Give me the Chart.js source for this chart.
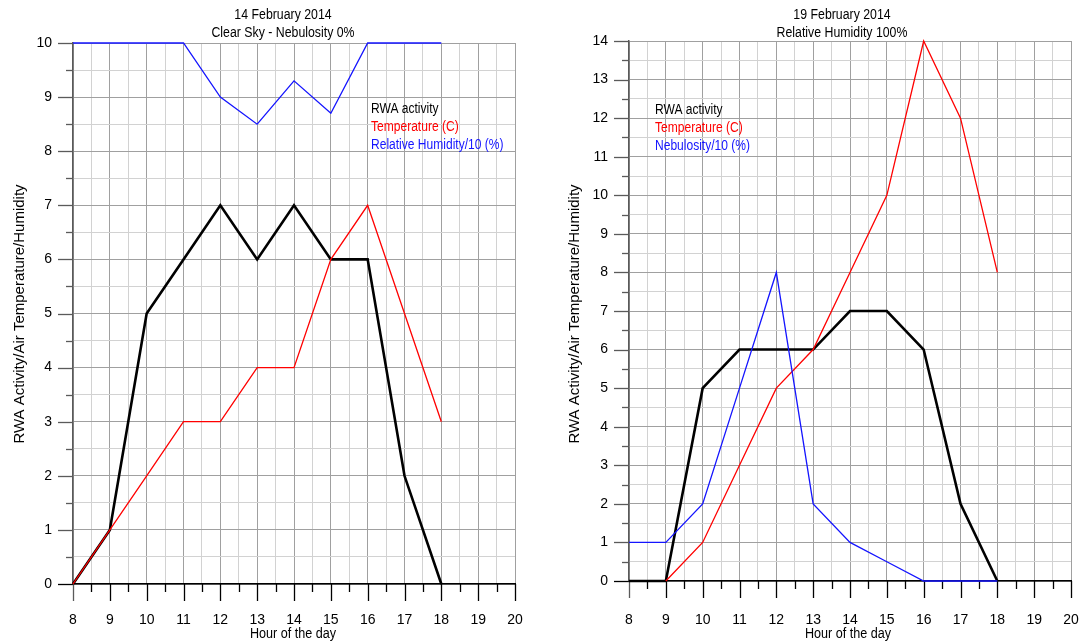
<!DOCTYPE html>
<html>
<head>
<meta charset="utf-8">
<script src="https://cdn.jsdelivr.net/npm/chart.js@4.4.1/dist/chart.umd.min.js"></script>
<style>
  html, body { margin: 0; padding: 0; background: #fff; }
  .panel { position: absolute; top: 0; width: 540px; height: 643px; }
  #leftPanel { left: 0; }
  #rightPanel { left: 540px; }
</style>
</head>
<body>
<div class="panel" id="leftPanel"><canvas id="feb14" width="540" height="643"></canvas></div>
<div class="panel" id="rightPanel"><canvas id="feb19" width="540" height="643"></canvas></div>
<script>
/* Hours of the day (x values shared by both charts) */
const hours = [8, 9, 10, 11, 12, 13, 14, 15, 16, 17, 18];

/* 14 February 2014 - clear sky */
const feb14Activity = [0, 1, 5, 6, 7, 6, 7, 6, 6, 2, 0];
const feb14Temperature = [0, 1, 2, 3, 3, 4, 4, 6, 7, 5, 3];
const feb14Humidity = [10, 10, 10, 10, 9, 8.5, 9.3, 8.7, 10, 10, 10];

/* 19 February 2014 - relative humidity 100% */
const feb19Activity = [0, 0, 5, 6, 6, 6, 7, 7, 6, 2, 0];
const feb19Temperature = [null, 0, 1, 3, 5, 6, 8, 10, 14, 12, 8];
const feb19Nebulosity = [1, 1, 2, 5, 8, 2, 1, 0.5, 0, 0, 0];

/* Axis ranges and text */
const hourMin = 8;
const hourMax = 20;
const feb14Max = 10;
const feb19Max = 14;
const feb14Titles = ["14 February 2014", "Clear Sky - Nebulosity 0%"];
const feb19Titles = ["19 February 2014", "Relative Humidity 100%"];
const feb14Legend = ["RWA activity", "Temperature (C)", "Relative Humidity/10 (%)"];
const feb19Legend = ["RWA activity", "Temperature (C)", "Nebulosity/10 (%)"];
const xTitle = "Hour of the day";
const yTitle = "RWA Activity/Air Temperature/Humidity";

const FONT = "'Liberation Sans', Arial, sans-serif";
const BLACK = "#000000";
const RED = "#ff0000";
const BLUE = "#1414ff";
const MAJOR_GRID = "#a0a0a0";
const MINOR_GRID = "#d2d2d2";
const AXIS_GRAY = "#5a5a5a";

function toPoints(values) {
  return hours.map((h, i) => ({ x: h, y: values[i] }));
}

function isWhole(v) {
  return Math.abs(v - Math.round(v)) < 1e-6;
}

/* Short/long tick marks outside the plot, like the original plotting program */
const tickMarks = {
  id: "tickMarks",
  beforeDatasetsDraw(chart) {
    const { ctx, chartArea, scales } = chart;
    const { x, y } = scales;
    ctx.save();
    ctx.lineWidth = 1.3;
    for (let v = y.min; v <= y.max + 1e-6; v += 0.5) {
      const py = Math.round(y.getPixelForValue(v)) + 0.5;
      const len = isWhole(v) ? 15 : 7;
      ctx.strokeStyle = v === 0 ? BLACK : AXIS_GRAY;
      ctx.beginPath();
      ctx.moveTo(chartArea.left - len, py);
      ctx.lineTo(chartArea.left, py);
      ctx.stroke();
    }
    for (let h = x.min; h <= x.max + 1e-6; h += 0.5) {
      const px = Math.round(x.getPixelForValue(h)) + 0.5;
      const len = isWhole(h) ? 17 : 8;
      ctx.strokeStyle = h === x.min ? AXIS_GRAY : BLACK;
      ctx.beginPath();
      ctx.moveTo(px, chartArea.bottom);
      ctx.lineTo(px, chartArea.bottom + len);
      ctx.stroke();
    }
    ctx.restore();
  }
};

function condensedText(ctx, text, x, y, size, colour, squeeze) {
  ctx.save();
  ctx.font = `${size}px ${FONT}`;
  ctx.fillStyle = colour;
  ctx.textBaseline = "middle";
  ctx.textAlign = "left";
  const w = ctx.measureText(text).width * squeeze;
  ctx.translate(x - w / 2, y);
  ctx.scale(squeeze, 1);
  ctx.fillText(text, 0, 0);
  ctx.restore();
}

/* Titles, text legend and axis titles */
const chartTexts = {
  id: "chartTexts",
  afterDraw(chart, args, opts) {
    const { ctx, chartArea } = chart;
    condensedText(ctx, opts.titles[0], opts.titleX, 15, 14, BLACK, 0.88);
    condensedText(ctx, opts.titles[1], opts.titleX, 33, 14, BLACK, 0.88);

    const colours = [BLACK, RED, BLUE];
    ctx.save();
    ctx.font = `14px ${FONT}`;
    ctx.textBaseline = "middle";
    opts.legend.forEach((label, i) => {
      ctx.save();
      ctx.fillStyle = colours[i];
      ctx.translate(chartArea.left + opts.legendDx, opts.legendY + i * 18);
      ctx.scale(0.86, 1);
      ctx.fillText(label, 0, 0);
      ctx.restore();
    });
    ctx.restore();

    condensedText(ctx, xTitle, opts.xTitleX, 634, 14, BLACK, 0.9);

    ctx.save();
    ctx.font = `15px ${FONT}`;
    ctx.fillStyle = BLACK;
    ctx.textAlign = "center";
    ctx.textBaseline = "middle";
    ctx.translate(opts.yTitleX, 314);
    ctx.rotate(-Math.PI / 2);
    ctx.fillText(yTitle, 0, 0);
    ctx.restore();
  }
};

function lineSet(label, values, colour, width) {
  return {
    label,
    data: toPoints(values),
    borderColor: colour,
    backgroundColor: colour,
    borderWidth: width,
    pointRadius: 0,
    tension: 0,
    fill: false,
    clip: false,
    spanGaps: false
  };
}

function createChart(canvasId, setup) {
  const ctx = document.getElementById(canvasId).getContext("2d");
  return new Chart(ctx, {
    type: "line",
    data: {
      datasets: [
        lineSet(setup.legend[2], setup.blue, BLUE, 1.3),
        lineSet(setup.legend[1], setup.red, RED, 1.3),
        lineSet(setup.legend[0], setup.black, BLACK, 2.6)
      ]
    },
    options: {
      responsive: false,
      animation: false,
      events: [],
      layout: {
        padding: { top: setup.top, right: setup.right, bottom: 0, left: 0 }
      },
      plugins: {
        legend: { display: false },
        title: { display: false },
        tooltip: { enabled: false },
        chartTexts: setup.texts
      },
      scales: {
        x: {
          type: "linear",
          min: hourMin,
          max: hourMax,
          afterFit(scale) { scale.height = setup.xHeight; },
          ticks: {
            stepSize: 0.5,
            autoSkip: false,
            maxRotation: 0,
            /* labels pushed below the long tick marks through the line height,
               tick padding would also widen the right margin */
            padding: 0,
            color: BLACK,
            font: { family: FONT, size: 14, lineHeight: setup.xLabelLine + "px" },
            callback: v => (isWhole(v) ? v : "")
          },
          grid: {
            drawTicks: false,
            lineWidth: 1,
            color: c => (isWhole(c.tick.value) ? MAJOR_GRID : MINOR_GRID)
          },
          border: { color: BLACK, width: 1.5 }
        },
        y: {
          min: 0,
          max: setup.yMax,
          afterFit(scale) { scale.width = setup.yWidth; },
          ticks: {
            stepSize: 0.5,
            autoSkip: false,
            padding: 21,
            color: BLACK,
            font: { family: FONT, size: 14 },
            callback: v => (isWhole(v) ? v : "")
          },
          grid: {
            drawTicks: false,
            lineWidth: 1,
            color: c => (isWhole(c.tick.value) ? MAJOR_GRID : MINOR_GRID)
          },
          border: { color: AXIS_GRAY, width: 1.5 }
        }
      }
    },
    plugins: [tickMarks, chartTexts]
  });
}

createChart("feb14", {
  black: feb14Activity,
  red: feb14Temperature,
  blue: feb14Humidity,
  legend: feb14Legend,
  yMax: feb14Max,
  top: 43,
  right: 25,
  yWidth: 73,
  xHeight: 59,
  xLabelLine: 72,
  texts: {
    titles: feb14Titles,
    titleX: 283,
    legend: feb14Legend,
    legendDx: 298,
    legendY: 109,
    xTitleX: 293,
    yTitleX: 20
  }
});

createChart("feb19", {
  black: feb19Activity,
  red: feb19Temperature,
  blue: feb19Nebulosity,
  legend: feb19Legend,
  yMax: feb19Max,
  top: 41,
  right: 9,
  yWidth: 89,
  xHeight: 62,
  xLabelLine: 78,
  texts: {
    titles: feb19Titles,
    titleX: 302,
    legend: feb19Legend,
    legendDx: 26,
    legendY: 110,
    xTitleX: 308,
    yTitleX: 35
  }
});
</script>
</body>
</html>
